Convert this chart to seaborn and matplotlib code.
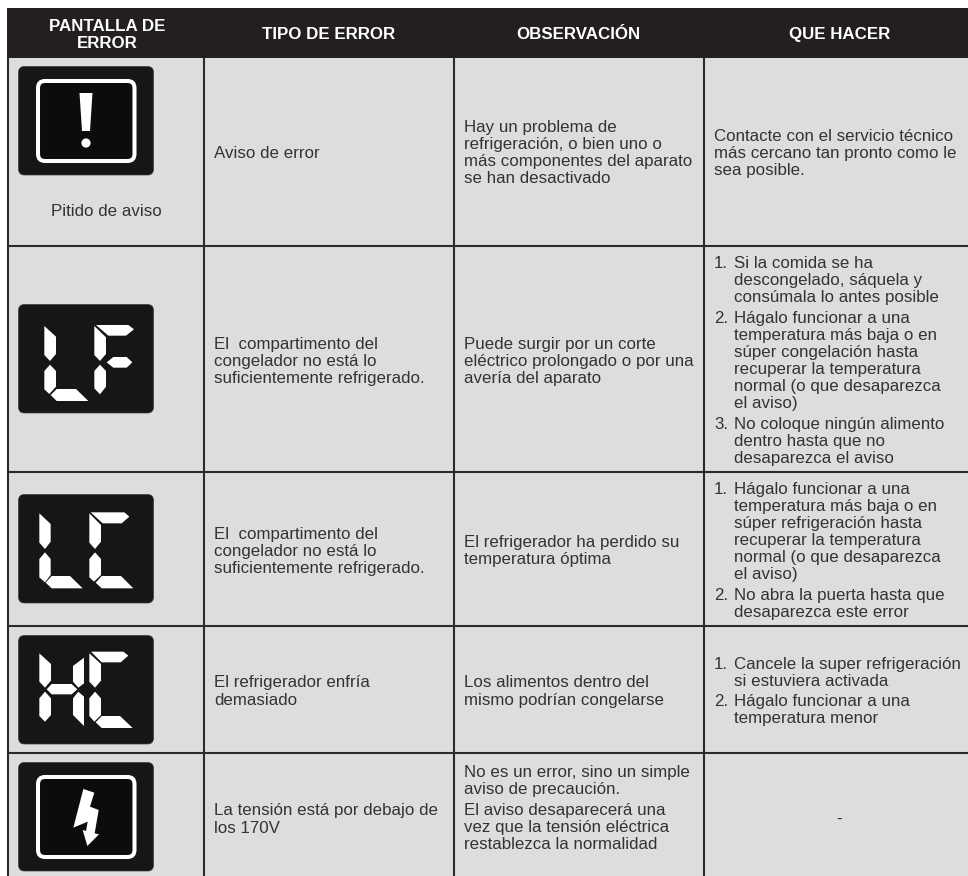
import matplotlib
matplotlib.use("Agg")
import matplotlib.pyplot as plt
import pandas as pd
import seaborn as sns
from matplotlib.patches import FancyBboxPatch, Polygon, Circle, Rectangle

# column texts
headers = [["PANTALLA DE", "ERROR"], ["TIPO DE ERROR"], ["OBSERVACIÓN"], ["QUE HACER"]]
beep_label = "Pitido de aviso"

tipo_error = [
    ["Aviso de error"],
    ["El  compartimento del", "congelador no está lo", "suficientemente refrigerado."],
    ["El  compartimento del", "congelador no está lo", "suficientemente refrigerado."],
    ["El refrigerador enfría", "demasiado"],
    ["La tensión está por debajo de", "los 170V"],
]
observacion = [
    ["Hay un problema de", "refrigeración, o bien uno o", "más componentes del aparato", "se han desactivado"],
    ["Puede surgir por un corte", "eléctrico prolongado o por una", "avería del aparato"],
    ["El refrigerador ha perdido su", "temperatura óptima"],
    ["Los alimentos dentro del", "mismo podrían congelarse"],
    ["No es un error, sino un simple", "aviso de precaución.", "El aviso desaparecerá una", "vez que la tensión eléctrica", "restablezca la normalidad"],
]
contacte = ["Contacte con el servicio técnico", "más cercano tan pronto como le", "sea posible."]
que_hacer_lf = [
    ["Si la comida se ha", "descongelado, sáquela y", "consúmala lo antes posible"],
    ["Hágalo funcionar a una", "temperatura más baja o en", "súper congelación hasta", "recuperar la temperatura", "normal (o que desaparezca", "el aviso)"],
    ["No coloque ningún alimento", "dentro hasta que no", "desaparezca el aviso"],
]
que_hacer_lc = [
    ["Hágalo funcionar a una", "temperatura más baja o en", "súper refrigeración hasta", "recuperar la temperatura", "normal (o que desaparezca", "el aviso)"],
    ["No abra la puerta hasta que", "desaparezca este error"],
]
que_hacer_hc = [
    ["Cancele la super refrigeración", "si estuviera activada"],
    ["Hágalo funcionar a una", "temperatura menor"],
]
que_hacer_none = "-"

# layout, pixels
W, H = 968, 876
col_lines = [8, 204, 454, 704]
row_lines = [246, 472, 626, 753]
top, header_bottom = 7.5, 58
box_tops = [66, 304, 494, 635, 762]
tipo_base = [158, 349, 539, 687, 815]
obs_base = [132, 349, 547, 687, 777]
BG, DARK, ICON, INK = "#dcddde", "#231f20", "#161616", "#333333"
BODY_SIZE = 12.15

# LCD segments, read at 3x zoom
seg_lf = [
    [(133, 108), (168, 140), (168, 192), (150, 213), (133, 195)],
    [(150, 224), (168, 243), (168, 290), (148, 312), (133, 298), (133, 243)],
    [(170, 297), (228, 297), (265, 333), (170, 333), (152, 315)],
    [(288, 105), (385, 105), (402, 118), (378, 137), (325, 137)],
    [(283, 108), (318, 142), (318, 192), (300, 213), (283, 195)],
    [(320, 217), (340, 201), (380, 201), (397, 217), (380, 233), (340, 233)],
    [(300, 224), (318, 243), (318, 290), (300, 313), (283, 295), (283, 243)],
]
seg_lc = [
    [(58, 70), (92, 102), (92, 155), (75, 177), (58, 158)],
    [(75, 187), (92, 207), (92, 255), (75, 277), (58, 262), (58, 207)],
    [(95, 258), (150, 258), (188, 295), (95, 295), (77, 278)],
    [(212, 67), (313, 67), (328, 80), (305, 100), (248, 100)],
    [(208, 70), (243, 105), (243, 155), (225, 177), (208, 158)],
    [(225, 187), (243, 207), (243, 255), (222, 275), (208, 262), (208, 207)],
    [(245, 258), (303, 258), (340, 295), (245, 295), (227, 278)],
]
seg_hc = [
    [(118, 190), (153, 222), (153, 272), (135, 293), (118, 275)],
    [(135, 305), (153, 325), (153, 375), (135, 395), (118, 378), (118, 325)],
    [(155, 282), (215, 282), (232, 298), (215, 313), (155, 313), (140, 298)],
    [(252, 203), (252, 280), (235, 293), (219, 275), (219, 228)],
    [(235, 305), (252, 320), (252, 408), (219, 375), (219, 325)],
    [(273, 185), (370, 185), (385, 197), (362, 217), (305, 217)],
    [(268, 190), (303, 222), (303, 272), (285, 293), (268, 275)],
    [(285, 305), (303, 325), (303, 375), (283, 395), (268, 378), (268, 325)],
    [(305, 378), (360, 378), (398, 414), (305, 414), (287, 397)],
]
bolt = [(250, 597), (283, 608), (270, 650), (296, 660), (284, 730), (297, 733),
        (262, 768), (248, 720), (258, 723), (263, 695), (220, 713)]

sns.set_theme(style="white")
plt.rcParams["font.family"] = ["Liberation Sans", "DejaVu Sans"]

fig = plt.figure(figsize=(W / 100, H / 100), dpi=100)
ax = fig.add_axes([0, 0, 1, 1])

# body and header
ax.add_patch(Rectangle((col_lines[0], header_bottom), W - col_lines[0], H - header_bottom, color=BG, lw=0))
ax.add_patch(Rectangle((col_lines[0] - 1, top), W - col_lines[0] + 1, header_bottom - top, color=DARK, lw=0))

# grid lines
grid = []
for i, x in enumerate(col_lines):
    grid += [("v%d" % i, x, header_bottom), ("v%d" % i, x, H)]
for i, y in enumerate(row_lines):
    grid += [("h%d" % i, col_lines[0], y), ("h%d" % i, W, y)]
grid_df = pd.DataFrame(grid, columns=["line", "x", "y"])
sns.lineplot(data=grid_df, x="x", y="y", units="line", estimator=None, sort=False,
             color="#2b2b2b", lw=1.5, legend=False, ax=ax, solid_capstyle="butt")

ax.set_xlim(0, W)
ax.set_ylim(H, 0)
ax.axis("off")


def put_lines(x, y, lines, step=17):
    for i, line in enumerate(lines):
        ax.text(x, y + i * step, line, fontsize=BODY_SIZE, color=INK, va="baseline")


def put_numbered(x, y, items, gap=21, step=17):
    for n, item in enumerate(items, 1):
        ax.text(x, y, "%d." % n, fontsize=BODY_SIZE, color=INK, va="baseline")
        ax.text(x + 19.5, y, item[0], fontsize=BODY_SIZE, color=INK, va="baseline")
        put_lines(x + 20, y + step, item[1:], step)
        y += step * (len(item) - 1) + gap


def icon_box(y):
    ax.add_patch(FancyBboxPatch((18.5, y + 0.5), 135, 108.5, boxstyle="round,pad=0,rounding_size=6",
                                fc=ICON, ec="#3a3a3a", lw=0.5))


def frame(y):
    ax.add_patch(FancyBboxPatch((38, y + 15), 96.5, 80, boxstyle="round,pad=0,rounding_size=7",
                                fc="#0c0c0c", ec="white", lw=2.9))


def white_poly(points, ox, oy):
    ax.add_patch(Polygon([(ox + a / 3, oy + b / 3) for a, b in points], closed=True, fc="white", lw=0))


# header text
header_x = [107, 329, 578, 840]
for x, lines in zip(header_x, headers):
    y = 39 if len(lines) == 1 else 31
    for i, line in enumerate(lines):
        ax.text(x, y + i * 17, line, color="white", fontsize=12.2, fontweight="bold", ha="center", va="baseline")

# icons
for y in box_tops:
    icon_box(y)

frame(box_tops[0])
ax.add_patch(Polygon([(79.5, 93), (92.5, 93), (90, 131), (82, 131)], closed=True, fc="white", lw=0))
ax.add_patch(Circle((86, 143), 4.6, fc="white", lw=0))

for seg in seg_lf:
    white_poly(seg, 0, 290)
for seg in seg_lc:
    white_poly(seg, 20, 490)
for seg in seg_hc:
    white_poly(seg, 0, 590)

frame(box_tops[4])
white_poly(bolt, 0, 590)

# text columns
ax.text(106, 216.5, beep_label, fontsize=BODY_SIZE, color=INK, ha="center", va="baseline")
for lines, y in zip(tipo_error, tipo_base):
    put_lines(214, y, lines, 18 if y in (687, 815) else 17)

for row in range(4):
    put_lines(464, obs_base[row], observacion[row], 18 if row == 3 else 17)
put_lines(464, obs_base[4], observacion[4][:2])
put_lines(464, 815, observacion[4][2:])

put_lines(714, 141, contacte)
put_numbered(714, 268, que_hacer_lf)
put_numbered(714, 494, que_hacer_lc)
put_numbered(714, 669, que_hacer_hc, gap=20)
ax.text(839, 824, que_hacer_none, fontsize=BODY_SIZE, color=INK, ha="center", va="baseline")

fig.savefig("out.png", dpi=100, facecolor="white")
